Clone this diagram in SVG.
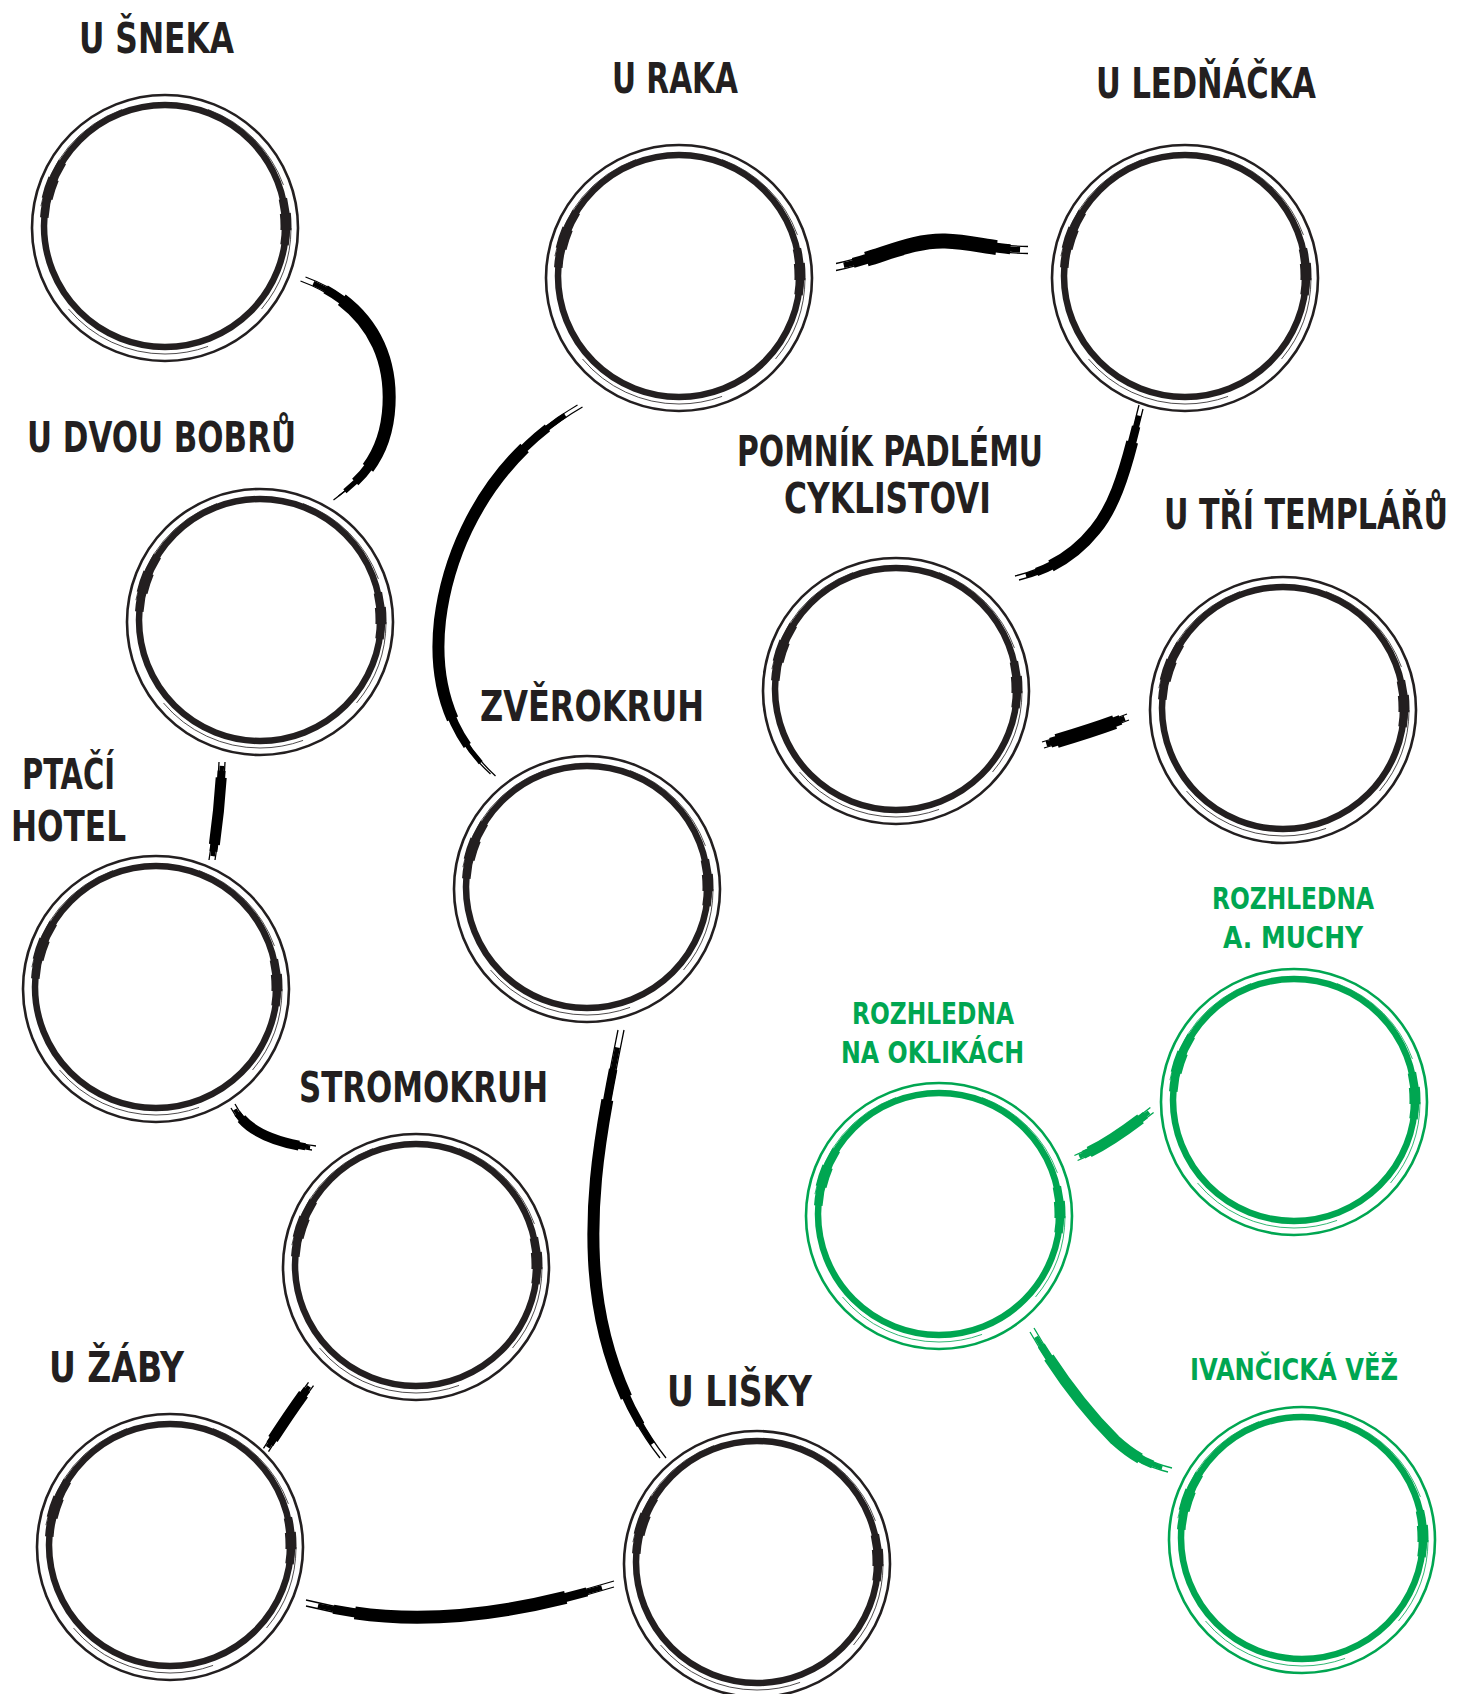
<svg xmlns="http://www.w3.org/2000/svg" xmlns:xlink="http://www.w3.org/1999/xlink" width="1470" height="1694" viewBox="0 0 1470 1694">
<style>
  .lbl { font-family: "Liberation Sans Narrow", "DejaVu Sans Condensed", "Liberation Sans", sans-serif; font-weight: bold; font-size: 42px; fill: #231f20; }
  .lbl.g { font-size: 31px; fill: #00a651; }
  .r-outer { fill: none; stroke: currentColor; stroke-width: 2.6; }
  .r-inner { fill: none; stroke: currentColor; stroke-width: 6.5; }
  .r-thick { fill: none; stroke: currentColor; stroke-width: 8.5; stroke-dasharray: 22 175 28 135; stroke-dashoffset: 13; }
  .r-thick2 { fill: none; stroke: currentColor; stroke-width: 11; stroke-dasharray: 8 191 10 151; stroke-dashoffset: 6; }
  .r-hair { fill: none; stroke: currentColor; stroke-width: 1; stroke-dasharray: 40 30 70 50 60 40 50 20; opacity: 0.8; }
  .conn use { fill: none; }
  .core { stroke-dasharray: 0 16 68 100; }
  .mid2 { stroke-dasharray: 0 9 82 100; }
  .mid { stroke-dasharray: 0 4 92 100; }
  .hair { stroke-width: 1.3; }
  .blk { stroke: #000; }
  .grn { stroke: #00a651; }
</style>
<defs>
  <g id="ring">
    <circle r="133" class="r-outer"/>
    <circle cy="-2" r="121" class="r-inner"/>
    <circle cy="-2" r="121" class="r-thick" pathLength="360"/>
    <circle cy="-2" r="121" class="r-thick2" pathLength="360"/>
    <circle r="126" class="r-hair" pathLength="360"/>
  </g>
  <path id="c1" pathLength="100" d="M 303 279 C 360 300, 392 345, 389 405 C 387 445, 372 472, 336 498"/>
  <path id="c2" pathLength="100" d="M 222 762 C 221 790, 217 830, 212 860"/>
  <path id="c3" pathLength="100" d="M 233 1106 C 245 1130, 270 1142, 314 1148"/>
  <path id="c4" pathLength="100" d="M 311 1384 Q 290 1412, 266 1450"/>
  <path id="c5" pathLength="100" d="M 306 1603 C 380 1622, 470 1628, 614 1584"/>
  <path id="c6" pathLength="100" d="M 621 1030 C 605 1110, 590 1180, 594 1260 C 598 1340, 625 1410, 663 1458"/>
  <path id="c7" pathLength="100" d="M 580 406 C 495 455, 450 540, 440 620 C 432 690, 455 740, 493 775"/>
  <path id="c8" pathLength="100" d="M 836 267 C 880 258, 910 240, 945 241 C 975 242, 995 250, 1028 250"/>
  <path id="c9" pathLength="100" d="M 1141 407 C 1130 450, 1120 500, 1095 530 C 1075 555, 1050 570, 1017 578"/>
  <path id="c10" pathLength="100" d="M 1043 745 C 1070 737, 1100 728, 1128 717"/>
  <path id="c11" pathLength="100" d="M 1076 1158 C 1100 1148, 1120 1135, 1152 1110"/>
  <path id="c12" pathLength="100" d="M 1032 1330 C 1055 1370, 1085 1410, 1115 1440 C 1135 1458, 1150 1465, 1170 1470"/>
</defs>

<rect width="1470" height="1694" fill="#ffffff"/>

<g id="connectors" class="conn">
  <g class="blk">
    <use href="#c1" class="core" style="stroke-width:13"/>
    <use href="#c1" class="mid2" style="stroke-width:9"/>
    <use href="#c1" class="mid" style="stroke-width:5"/>
    <use href="#c1" class="hair" transform="translate(2.5,-2)"/>
    <use href="#c1" class="hair" transform="translate(-2.5,2)"/>

    <use href="#c2" class="core" style="stroke-width:11"/>
    <use href="#c2" class="mid2" style="stroke-width:8"/>
    <use href="#c2" class="mid" style="stroke-width:4.5"/>
    <use href="#c2" class="hair" transform="translate(3,0)"/>
    <use href="#c2" class="hair" transform="translate(-3,0)"/>

    <use href="#c3" class="core" style="stroke-width:10"/>
    <use href="#c3" class="mid2" style="stroke-width:7"/>
    <use href="#c3" class="mid" style="stroke-width:4"/>
    <use href="#c3" class="hair" transform="translate(2,-2)"/>
    <use href="#c3" class="hair" transform="translate(-2,2)"/>

    <use href="#c4" class="core" style="stroke-width:11"/>
    <use href="#c4" class="mid2" style="stroke-width:8"/>
    <use href="#c4" class="mid" style="stroke-width:4.5"/>
    <use href="#c4" class="hair" transform="translate(2.5,1.7)"/>
    <use href="#c4" class="hair" transform="translate(-2.5,-1.7)"/>

    <use href="#c5" class="core" style="stroke-width:13"/>
    <use href="#c5" class="mid2" style="stroke-width:9"/>
    <use href="#c5" class="mid" style="stroke-width:5"/>
    <use href="#c5" class="hair" transform="translate(0,3)"/>
    <use href="#c5" class="hair" transform="translate(0,-3)"/>

    <use href="#c6" class="core" style="stroke-width:12"/>
    <use href="#c6" class="mid2" style="stroke-width:8.5"/>
    <use href="#c6" class="mid" style="stroke-width:5"/>
    <use href="#c6" class="hair" transform="translate(3,0)"/>
    <use href="#c6" class="hair" transform="translate(-3,0)"/>

    <use href="#c7" class="core" style="stroke-width:12"/>
    <use href="#c7" class="mid2" style="stroke-width:8.5"/>
    <use href="#c7" class="mid" style="stroke-width:5"/>
    <use href="#c7" class="hair" transform="translate(2.5,1)"/>
    <use href="#c7" class="hair" transform="translate(-2.5,-1)"/>

    <use href="#c8" class="core" style="stroke-width:15"/>
    <use href="#c8" class="mid2" style="stroke-width:10"/>
    <use href="#c8" class="mid" style="stroke-width:5.5"/>
    <use href="#c8" class="hair" transform="translate(0,3.5)"/>
    <use href="#c8" class="hair" transform="translate(0,-3.5)"/>

    <use href="#c9" class="core" style="stroke-width:12"/>
    <use href="#c9" class="mid2" style="stroke-width:8.5"/>
    <use href="#c9" class="mid" style="stroke-width:5"/>
    <use href="#c9" class="hair" transform="translate(2,2)"/>
    <use href="#c9" class="hair" transform="translate(-2,-2)"/>

    <use href="#c10" class="core" style="stroke-width:14"/>
    <use href="#c10" class="mid2" style="stroke-width:10"/>
    <use href="#c10" class="mid" style="stroke-width:5.5"/>
    <use href="#c10" class="hair" transform="translate(1,3)"/>
    <use href="#c10" class="hair" transform="translate(-1,-3)"/>
  </g>
  <g class="grn">
    <use href="#c11" class="core" style="stroke-width:11"/>
    <use href="#c11" class="mid2" style="stroke-width:8"/>
    <use href="#c11" class="mid" style="stroke-width:4.5"/>
    <use href="#c11" class="hair" transform="translate(1.6,2.5)"/>
    <use href="#c11" class="hair" transform="translate(-1.6,-2.5)"/>

    <use href="#c12" class="core" style="stroke-width:11"/>
    <use href="#c12" class="mid2" style="stroke-width:8"/>
    <use href="#c12" class="mid" style="stroke-width:4.5"/>
    <use href="#c12" class="hair" transform="translate(2,-2)"/>
    <use href="#c12" class="hair" transform="translate(-2,2)"/>
  </g>
</g>

<g id="n-u-sneka" style="color:#231f20">
  <use href="#ring" transform="translate(165,228)"/>
  <text class="lbl" x="79" y="53" textLength="155" lengthAdjust="spacingAndGlyphs">U ŠNEKA</text>
</g>
<g id="n-u-dvou-bobru" style="color:#231f20">
  <use href="#ring" transform="translate(260,622)"/>
  <text class="lbl" x="27" y="452" textLength="269" lengthAdjust="spacingAndGlyphs">U DVOU BOBRŮ</text>
</g>
<g id="n-ptaci-hotel" style="color:#231f20">
  <use href="#ring" transform="translate(156,989)"/>
  <text class="lbl" x="22" y="789" textLength="93" lengthAdjust="spacingAndGlyphs">PTAČÍ</text>
  <text class="lbl" x="11" y="841" textLength="115" lengthAdjust="spacingAndGlyphs">HOTEL</text>
</g>
<g id="n-stromokruh" style="color:#231f20">
  <use href="#ring" transform="translate(416,1267)"/>
  <text class="lbl" x="299" y="1102" textLength="249" lengthAdjust="spacingAndGlyphs">STROMOKRUH</text>
</g>
<g id="n-u-zaby" style="color:#231f20">
  <use href="#ring" transform="translate(170,1547)"/>
  <text class="lbl" x="49" y="1382" textLength="135" lengthAdjust="spacingAndGlyphs">U ŽÁBY</text>
</g>
<g id="n-u-lisky" style="color:#231f20">
  <use href="#ring" transform="translate(757,1564)"/>
  <text class="lbl" x="667" y="1406" textLength="145" lengthAdjust="spacingAndGlyphs">U LIŠKY</text>
</g>
<g id="n-zverokruh" style="color:#231f20">
  <use href="#ring" transform="translate(587,889)"/>
  <text class="lbl" x="480" y="721" textLength="224" lengthAdjust="spacingAndGlyphs">ZVĚROKRUH</text>
</g>
<g id="n-u-raka" style="color:#231f20">
  <use href="#ring" transform="translate(679,278)"/>
  <text class="lbl" x="612" y="93" textLength="126" lengthAdjust="spacingAndGlyphs">U RAKA</text>
</g>
<g id="n-u-lednacka" style="color:#231f20">
  <use href="#ring" transform="translate(1185,278)"/>
  <text class="lbl" x="1096" y="98" textLength="220" lengthAdjust="spacingAndGlyphs">U LEDŇÁČKA</text>
</g>
<g id="n-pomnik" style="color:#231f20">
  <use href="#ring" transform="translate(896,691)"/>
  <text class="lbl" x="737" y="466" textLength="306" lengthAdjust="spacingAndGlyphs">POMNÍK PADLÉMU</text>
  <text class="lbl" x="784" y="513" textLength="207" lengthAdjust="spacingAndGlyphs">CYKLISTOVI</text>
</g>
<g id="n-u-tri-templaru" style="color:#231f20">
  <use href="#ring" transform="translate(1283,710)"/>
  <text class="lbl" x="1448" y="529" text-anchor="end" textLength="284" lengthAdjust="spacingAndGlyphs">U TŘÍ TEMPLÁŘŮ</text>
</g>
<g id="n-rozhledna-muchy" style="color:#00a651">
  <use href="#ring" transform="translate(1294,1102)"/>
  <text class="lbl g" x="1212" y="909" textLength="162" lengthAdjust="spacingAndGlyphs">ROZHLEDNA</text>
  <text class="lbl g" x="1223" y="948" textLength="140" lengthAdjust="spacingAndGlyphs">A. MUCHY</text>
</g>
<g id="n-rozhledna-oklikach" style="color:#00a651">
  <use href="#ring" transform="translate(939,1216)"/>
  <text class="lbl g" x="852" y="1024" textLength="162" lengthAdjust="spacingAndGlyphs">ROZHLEDNA</text>
  <text class="lbl g" x="841" y="1063" textLength="183" lengthAdjust="spacingAndGlyphs">NA OKLIKÁCH</text>
</g>
<g id="n-ivancicka-vez" style="color:#00a651">
  <use href="#ring" transform="translate(1302,1540)"/>
  <text class="lbl g" x="1190" y="1380" textLength="208" lengthAdjust="spacingAndGlyphs">IVANČICKÁ VĚŽ</text>
</g>
</svg>
